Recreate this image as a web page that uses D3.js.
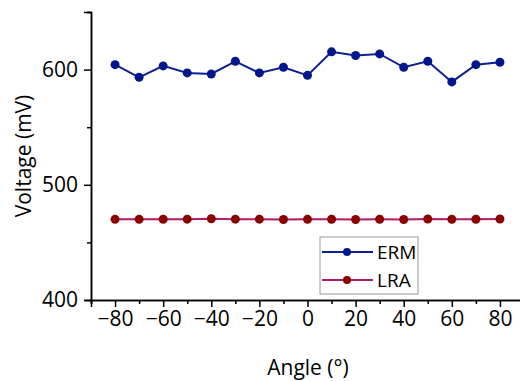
<!DOCTYPE html>
<html>
<head>
<meta charset="utf-8">
<script src="https://cdn.jsdelivr.net/npm/d3@7"></script>
<style>
  body { margin: 0; background: #fff; }
  text { font-family: "Open Sans", sans-serif; fill: #000; }
  .tick text { font-size: 21px; }
</style>
</head>
<body>
<div id="chart"></div>
<script>
const angles = [-80, -70, -60, -50, -40, -30, -20, -10, 0, 10, 20, 30, 40, 50, 60, 70, 80];
const ermValues = [604.3, 593.3, 603.2, 597.1, 596.2, 607.2, 597.1, 602.0, 595.0, 615.4, 612.2, 613.6, 602.0, 607.2, 589.3, 604.3, 606.4];
const lraValues = [470.0, 470.0, 470.1, 470.2, 470.5, 470.2, 470.2, 469.9, 470.0, 470.1, 469.9, 470.1, 469.9, 470.3, 470.0, 470.1, 470.3];
const seriesNames = ['ERM', 'LRA'];
const xTicks = [-80, -60, -40, -20, 0, 20, 40, 60, 80];
const yTicks = [400, 500, 600];

const width = 520, height = 381;
const svg = d3.select('#chart').append('svg')
    .attr('width', width).attr('height', height);

const xScale = d3.scaleLinear().domain([-90, 90]).range([91, 524]);
const yScale = d3.scaleLinear().domain([400, 650]).range([300, 12]);

const lineColors = ['#0d1f93', '#b01a66'];
const dotColors = ['#00178c', '#8b0000'];

// axes
svg.append('g').attr('transform', 'translate(0,300)')
    .call(d3.axisBottom(xScale).tickValues(xTicks).tickSize(7).tickPadding(4)
        .tickFormat(d => d < 0 ? '\u2212' + Math.abs(d) : d));
svg.append('g').attr('transform', 'translate(0,300)')
    .call(d3.axisBottom(xScale).tickValues(d3.range(-90, 91, 20)).tickSize(4).tickFormat(''));

svg.append('g').attr('transform', 'translate(91,0)')
    .call(d3.axisLeft(yScale).tickValues(yTicks).tickSize(7).tickPadding(6));
svg.append('g').attr('transform', 'translate(91,0)')
    .call(d3.axisLeft(yScale).tickValues([450, 550, 650]).tickSize(4).tickFormat(''));

svg.selectAll('.domain').attr('stroke', '#000').attr('stroke-width', 1.5);
svg.selectAll('.tick line').attr('stroke', '#000').attr('stroke-width', 1.5);

svg.append('text').attr('x', 308).attr('y', 375)
    .attr('text-anchor', 'middle').style('font-size', '21px').text('Angle (°)');
svg.append('text').attr('transform', 'translate(31,156) rotate(-90)')
    .attr('text-anchor', 'middle').style('font-size', '21px').text('Voltage (mV)');

// series
const line = d3.line().x(d => xScale(d[0])).y(d => yScale(d[1]));
[ermValues, lraValues].forEach((vals, i) => {
    const pts = angles.map((a, j) => [a, vals[j]]);
    svg.append('path').datum(pts)
        .attr('fill', 'none').attr('stroke', lineColors[i]).attr('stroke-width', 2)
        .attr('d', line);
    svg.selectAll('.dot' + i).data(pts).enter().append('circle')
        .attr('class', 'dot' + i)
        .attr('cx', d => xScale(d[0])).attr('cy', d => yScale(d[1]))
        .attr('r', 4.5).attr('fill', dotColors[i]);
});

// legend
const legend = svg.append('g').attr('transform', 'translate(320,237)');
legend.append('rect').attr('width', 98).attr('height', 57)
    .attr('fill', '#fff').attr('stroke', '#999').attr('stroke-width', 1);
seriesNames.forEach((name, i) => {
    const y = 15 + i * 28;
    legend.append('line').attr('x1', 2).attr('x2', 53).attr('y1', y).attr('y2', y)
        .attr('stroke', lineColors[i]).attr('stroke-width', 2);
    legend.append('circle').attr('cx', 27).attr('cy', y).attr('r', 4)
        .attr('fill', dotColors[i]);
    legend.append('text').attr('x', 57).attr('y', y + 7)
        .style('font-size', '19px').text(name);
});
</script>
</body>
</html>
